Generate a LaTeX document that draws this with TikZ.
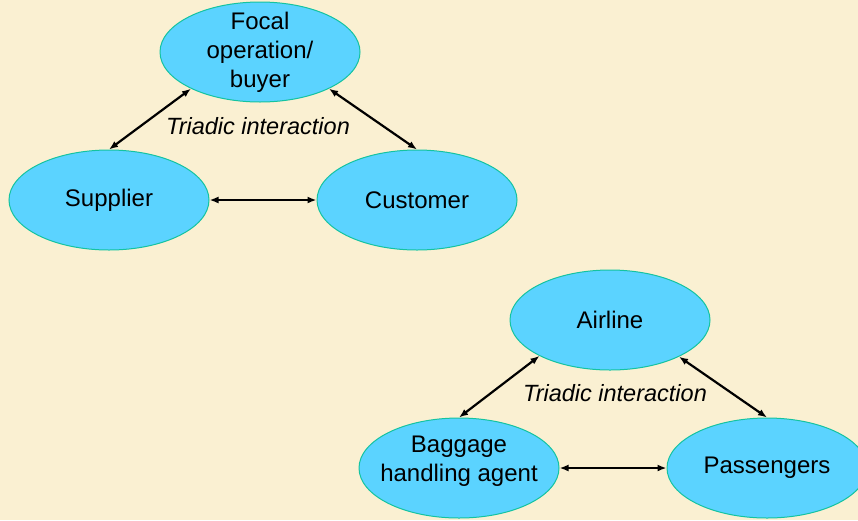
\documentclass[tikz,border=0pt]{standalone}
\usepackage{fontspec}
\setmainfont{Liberation Sans}
\usetikzlibrary{shapes.geometric,arrows.meta}
\definecolor{paper}{RGB}{250,240,210}
\definecolor{bubblefill}{RGB}{91,211,255}
\definecolor{bubbleline}{RGB}{20,195,160}
\tikzset{
  bubble/.style={ellipse,draw=bubbleline,fill=bubblefill,line width=1pt,
    minimum width=200pt,minimum height=100pt,inner sep=0pt},
  bubbletext/.style={align=center,inner sep=0pt,font=\fontsize{24}{28.8}\selectfont},
  link/.style={{Latex[length=9pt,width=7pt]}-{Latex[length=9pt,width=7pt]},line width=2.2pt},
  triad/.style={font=\fontsize{23.5}{28}\selectfont\itshape}
}
\begin{document}
\begin{tikzpicture}[x=1pt,y=-1pt]
    \fill[paper] (0,0) rectangle (858,520);
    \useasboundingbox (0,0) rectangle (858,520);
    % upper triad
    \node[bubble] (focal) at (260,52) {};
    \node[bubbletext] (focaltext) at (focal) {Focal\\operation/\\buyer};
    \node[bubble] (supplier) at (109,200) {};
    \node[bubbletext] (suppliertext) at (supplier) {Supplier};
    \node[bubble] (customer) at (417,200) {};
    \node[bubbletext] (customertext) at (customer) {Customer};
    \draw[link] (focal.208) -- (supplier.north);
    \draw[link] (focal.332) -- (customer.north);
    \draw[link] (supplier.east) -- (customer.west);
    \node[triad] (triadtop) at (258,126) {Triadic interaction};
    % lower triad
    \node[bubble] (airline) at (610,320) {};
    \node[bubbletext] (airlinetext) at (airline) {Airline};
    \node[bubble] (baggage) at (459,468) {};
    \node[bubbletext] (baggagetext) at (459,461) {Baggage\\handling agent};
    \node[bubble] (passengers) at (767,468) {};
    \node[bubbletext] (passengerstext) at (passengers) {Passengers};
    \draw[link] (airline.207) -- (baggage.north);
    \draw[link] (airline.332) -- (passengers.north);
    \draw[link] (baggage.east) -- (passengers.west);
    \node[triad] (triadlow) at (615,393) {Triadic interaction};
\end{tikzpicture}
\end{document}
